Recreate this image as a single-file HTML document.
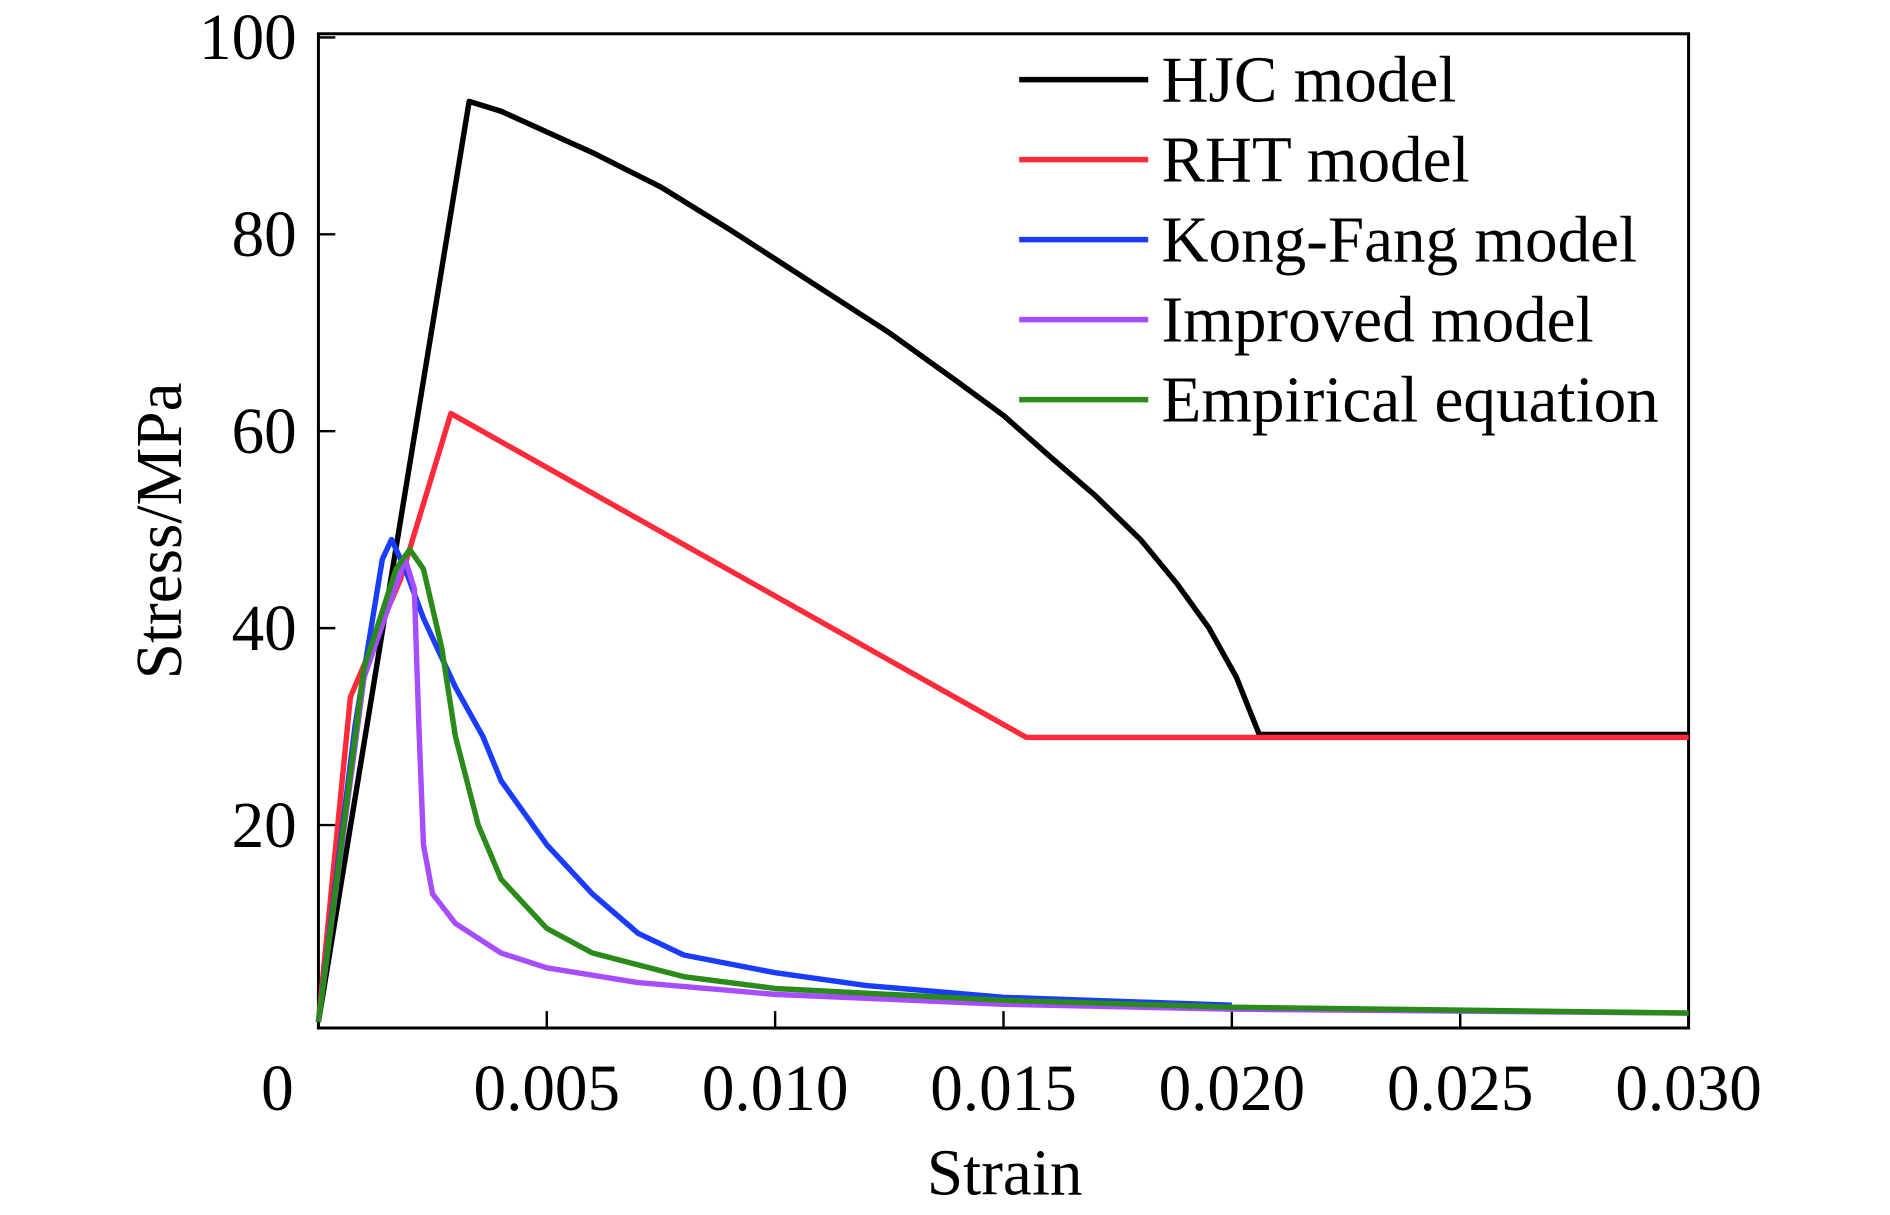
<!DOCTYPE html>
<html><head><meta charset="utf-8"><style>
html,body{margin:0;padding:0;background:#fff;}
svg{display:block;font-family:"Liberation Serif",serif;}
</style></head><body>
<svg id="chart" width="1890" height="1215" viewBox="0 0 1567 1007" preserveAspectRatio="none" xmlns="http://www.w3.org/2000/svg">
<rect x="264" y="28" width="1136" height="824" fill="none" stroke="#000" stroke-width="2.5"/>
<g id="ticks"></g>
<g id="series"></g>
<g id="legend"></g>
<text x="833" y="990" font-size="54" text-anchor="middle">Strain</text>
<text transform="translate(150,440) rotate(-90)" font-size="54" text-anchor="middle">Stress/MPa</text>
<text x="230" y="920" font-size="54" text-anchor="middle">0</text>
</svg>
<script>
const xTicks=[0.005,0.010,0.015,0.020,0.025,0.030];
const xTickLabels=["0.005","0.010","0.015","0.020","0.025","0.030"];
const yTicks=[20,40,60,80,100];
const yTickLabels=["20","40","60","80","100"];
const seriesNames=["HJC model","RHT model","Kong-Fang model","Improved model","Empirical equation"];
const seriesColors=["#000000","#ff2a3a","#1a3cff","#a64dff","#2a8a1a"];
const hjcX=[0,0.0033,0.004,0.005,0.006,0.0075,0.009,0.010,0.0115,0.0125,0.014,0.015,0.016,0.017,0.018,0.0188,0.0195,0.0201,0.0206,0.030];
const hjcY=[0,93.5,92.5,90.4,88.3,84.8,80.5,77.5,73,70,65,61.6,57.5,53.5,49,44.5,40,35,29.2,29.2];
const rhtX=[0,0.0007,0.0018,0.0029,0.0155,0.030];
const rhtY=[0,33,45,61.8,28.9,28.9];
const kfX=[0,0.0008,0.0014,0.0016,0.0019,0.0023,0.003,0.0036,0.004,0.005,0.006,0.007,0.008,0.010,0.012,0.015,0.020];
const kfY=[0,30,47,49,46,41,34,29,24.5,18,13,9,6.8,5,3.7,2.5,1.7];
const impX=[0,0.001,0.0019,0.0021,0.0022,0.0023,0.0025,0.003,0.004,0.005,0.007,0.010,0.015,0.020,0.030];
const impY=[0,35,47,44,30,18,13,10,7,5.5,4,2.8,1.8,1.3,0.9];
const empX=[0,0.001,0.0017,0.002,0.0023,0.0027,0.003,0.0035,0.004,0.005,0.006,0.008,0.010,0.015,0.020,0.025,0.030];
const empY=[0,36,46,48,46,38,29,20,14.5,9.5,7,4.6,3.4,2.2,1.5,1.2,0.9];
const NS="http://www.w3.org/2000/svg";
const sx=v=>264+v/0.030*1136;
const sy=v=>847-v*8.16;
const tg=document.getElementById('ticks');
xTicks.forEach((t,i)=>{
 const l=document.createElementNS(NS,'line');
 l.setAttribute('x1',sx(t));l.setAttribute('x2',sx(t));l.setAttribute('y1',852);l.setAttribute('y2',838);
 l.setAttribute('stroke','#000');l.setAttribute('stroke-width','2');
 
 
 tg.appendChild(l);
 const tx=document.createElementNS(NS,'text');
 tx.setAttribute('x',sx(t));tx.setAttribute('y',920);tx.setAttribute('font-size','54');tx.setAttribute('text-anchor','middle');
 tx.textContent=xTickLabels[i];
 
 
 tg.appendChild(tx);
});
yTicks.forEach((t,i)=>{
 const l=document.createElementNS(NS,'line');
 l.setAttribute('x1',264);l.setAttribute('x2',278);l.setAttribute('y1',sy(t));l.setAttribute('y2',sy(t));
 l.setAttribute('stroke','#000');l.setAttribute('stroke-width','2');
 
 
 tg.appendChild(l);
 const tx=document.createElementNS(NS,'text');
 tx.setAttribute('x',246);tx.setAttribute('y',sy(t)+18);tx.setAttribute('font-size','54');tx.setAttribute('text-anchor','end');
 tx.textContent=yTickLabels[i];
 
 
 tg.appendChild(tx);
});
const data=[[hjcX,hjcY],[rhtX,rhtY],[kfX,kfY],[impX,impY],[empX,empY]];
const slugs=["hjc","rht","kong-fang","improved","empirical"];
const sg=document.getElementById('series');
[0,1,2,3,4].forEach(i=>{
 const [xs,ys]=data[i];
 const p=document.createElementNS(NS,'polyline');
 p.setAttribute('points',xs.map((x,j)=>sx(x)+','+sy(ys[j])).join(' '));
 p.setAttribute('fill','none');p.setAttribute('stroke',seriesColors[i]);p.setAttribute('stroke-width','4.5');
 p.setAttribute('stroke-linejoin','round');
 
 
 sg.appendChild(p);
});
const lg=document.getElementById('legend');
seriesNames.forEach((n,i)=>{
 const y=66+i*66.3;
 const l=document.createElementNS(NS,'line');
 l.setAttribute('x1',845);l.setAttribute('x2',952);l.setAttribute('y1',y);l.setAttribute('y2',y);
 l.setAttribute('stroke',seriesColors[i]);l.setAttribute('stroke-width','4.5');
 
 
 lg.appendChild(l);
 const t=document.createElementNS(NS,'text');
 t.setAttribute('x',963);t.setAttribute('y',y+18);t.setAttribute('font-size','54');
 t.textContent=n;
 
 
 lg.appendChild(t);
});
</script>
</body></html>
